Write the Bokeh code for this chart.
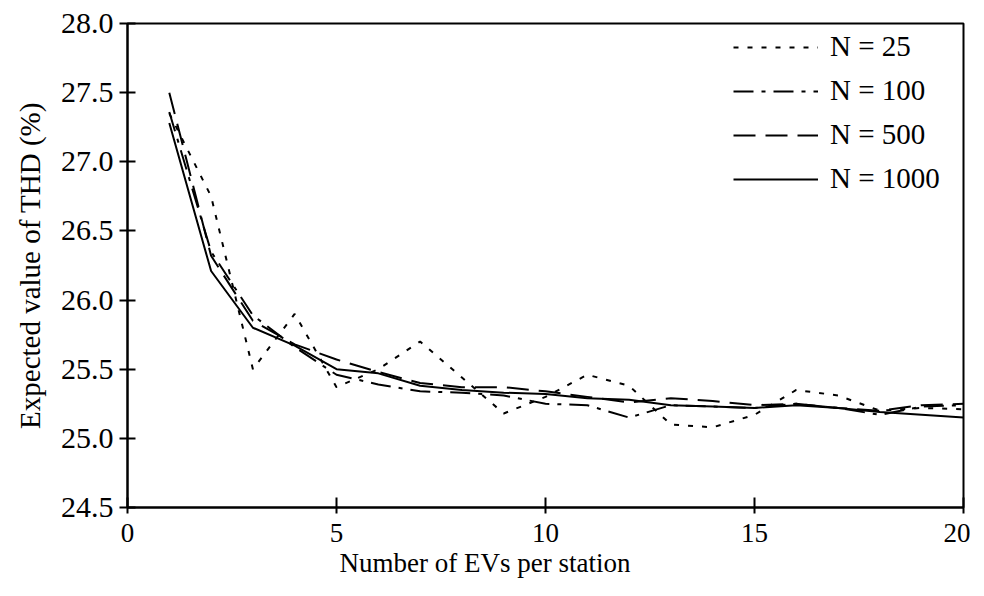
from bokeh.plotting import figure
from bokeh.models import Range1d, FixedTicker, PrintfTickFormatter, Title
from bokeh.embed import file_html
from bokeh.resources import INLINE

# ---- data ----
evs_per_station = list(range(1, 21))
thd_n25 = [27.35, 26.75, 25.50, 25.90, 25.37, 25.50, 25.70, 25.44, 25.18, 25.30,
           25.46, 25.38, 25.10, 25.08, 25.17, 25.35, 25.31, 25.20, 25.22, 25.21]
thd_n100 = [27.36, 26.35, 25.89, 25.66, 25.46, 25.39, 25.34, 25.33, 25.31, 25.25,
            25.24, 25.15, 25.24, 25.23, 25.22, 25.25, 25.22, 25.17, 25.23, 25.24]
thd_n500 = [27.50, 26.32, 25.85, 25.68, 25.57, 25.48, 25.40, 25.37, 25.37, 25.34,
            25.30, 25.26, 25.29, 25.27, 25.24, 25.25, 25.22, 25.20, 25.24, 25.25]
thd_n1000 = [27.28, 26.21, 25.80, 25.67, 25.50, 25.47, 25.38, 25.35, 25.33, 25.32,
             25.29, 25.28, 25.24, 25.23, 25.22, 25.24, 25.22, 25.19, 25.17, 25.15]
series_labels = ["N = 25", "N = 100", "N = 500", "N = 1000"]
x_ticks = [0, 5, 10, 15, 20]
y_ticks = [24.5, 25.0, 25.5, 26.0, 26.5, 27.0, 27.5, 28.0]

FONT = "Liberation Serif"

p = figure(width=970, height=580, output_backend="svg", toolbar_location=None,
           x_range=Range1d(0, 20), y_range=Range1d(24.5, 28.0),
           min_border_left=127, min_border_right=7, min_border_top=23,
           min_border_bottom=73)

p.xgrid.visible = False
p.ygrid.visible = False
p.background_fill_color = "white"
p.border_fill_color = "white"
p.outline_line_color = "black"
p.outline_line_width = 2
p.outline_line_alpha = 1.0

styles = [
    dict(line_dash="5 9"),
    dict(line_dash="20 8 4 8"),
    dict(line_dash="22 10"),
    dict(line_dash="solid"),
]
for ys, lab, st in zip([thd_n25, thd_n100, thd_n500, thd_n1000], series_labels, styles):
    p.line(evs_per_station, ys, line_color="black", line_width=2,
           legend_label=lab, **st)

# axes
p.xaxis.ticker = FixedTicker(ticks=x_ticks)
p.yaxis.ticker = FixedTicker(ticks=y_ticks)
p.yaxis.formatter = PrintfTickFormatter(format="%.1f")
for ax in (p.xaxis, p.yaxis):
    ax.axis_line_color = "black"
    ax.axis_line_width = 2
    ax.major_tick_line_color = "black"
    ax.major_tick_line_width = 2
    ax.minor_tick_line_color = None
    ax.major_label_text_font = FONT
    ax.major_label_text_color = "black"
    ax.axis_label_text_font = FONT
    ax.axis_label_text_font_style = "normal"
    ax.axis_label_text_color = "black"
    ax.axis_label_text_font_size = "29px"

p.yaxis.major_tick_in = 8
p.yaxis.major_tick_out = 8
p.yaxis.major_label_standoff = 6
p.yaxis.major_label_text_font_size = "30px"
p.yaxis.axis_label = "Expected value of THD (%)"
p.yaxis.axis_label_standoff = 12

p.xaxis.major_tick_in = 10
p.xaxis.major_tick_out = 6
p.xaxis.major_label_standoff = 10
p.xaxis.major_label_text_font_size = "27px"

# x-axis title, placed left of centre as in the reference
p.add_layout(Title(text="Number of EVs per station", align="left", offset=212,
                   text_font=FONT, text_font_size="27px", text_font_style="normal",
                   text_color="black", standoff=3), "below")

# legend
lg = p.legend[0]
lg.location = (606, 312)
lg.label_text_font = FONT
lg.label_text_font_size = "29px"
lg.label_text_color = "black"
lg.glyph_width = 85
lg.glyph_height = 30
lg.label_height = 30
lg.label_standoff = 12
lg.spacing = 11
lg.padding = 10
lg.margin = 0
lg.border_line_color = None
lg.background_fill_alpha = 0

open("out.html", "w").write(file_html(p, INLINE))
